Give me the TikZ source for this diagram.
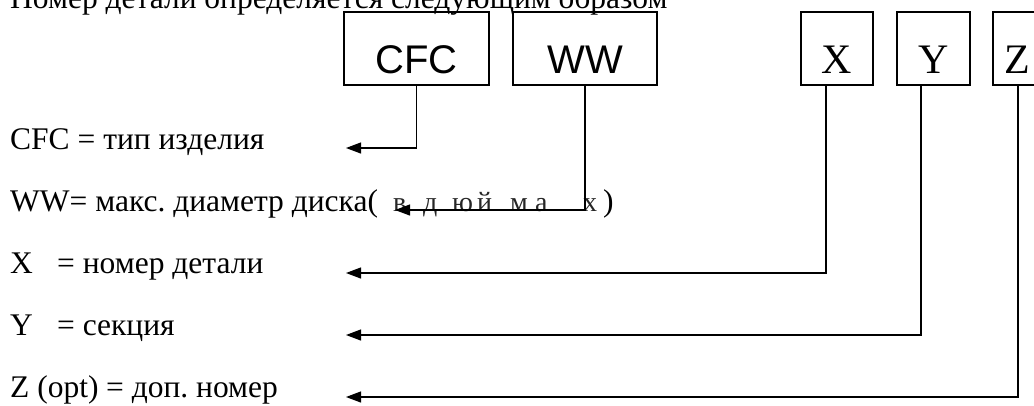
\documentclass[tikz,border=0pt]{standalone}
\usepackage{fontspec}
\setmainfont{Liberation Serif}
\newfontfamily\sansf{Liberation Sans}
\usetikzlibrary{arrows.meta}
\frenchspacing
\begin{document}
\begin{tikzpicture}[x=1pt,y=-1pt,
  box/.style={draw, line width=1.2pt, inner sep=0pt, text height=61pt, text depth=12pt, anchor=base},
  sbox/.style={box, font=\sansf\fontsize{40}{40}\selectfont},
  tbox/.style={box, font=\fontsize{42}{42}\selectfont},
  lbl/.style={anchor=base west, inner sep=0pt, font=\fontsize{31.5}{36}\selectfont},
  sp/.style={anchor=base west, inner sep=0pt, font=\fontsize{28}{34}\selectfont, text=black!85},
  arr/.style={line width=1.2pt, -{Triangle[length=15pt,width=11pt]}}]
\useasboundingbox (0,0) rectangle (1034,405);
% title (cut off at the top)
\node[lbl] (title) at (10,8) {Номер детали определяется следующим образом};
% boxes
\node[sbox, minimum width=145pt] (cfc) at (416.5,73) {CFC};
\node[sbox, minimum width=144pt] (ww) at (585,73) {WW};
\node[tbox, minimum width=72pt] (xb) at (837,73) {X};
\node[tbox, minimum width=73pt] (yb) at (933.5,73) {Y};
\node[tbox, minimum width=48pt] (zb) at (1017,73) {Z};
% labels
\node[lbl] (lcfc) at (10,149) {CFC = тип изделия};
\node[lbl] (lww) at (10,211) {WW= макс. диаметр диска(};
\node[sp] (s1) at (393,211) {в};
\node[sp] (s2) at (423,211) {д};
\node[sp] (s3) at (452,211) {ю};
\node[sp] (s4) at (477,211) {й};
\node[sp] (s5) at (510,211) {м};
\node[sp] (s6) at (535,211) {а};
\node[sp] (s7) at (583,211) {х};
\node[lbl] (s8) at (603,211) {)};
\node[lbl] (lx) at (10,273) {\rlap{X}\hspace{47pt}= номер детали};
\node[lbl] (ly) at (10,335) {\rlap{Y}\hspace{47pt}= секция};
\node[lbl] (lz) at (10,397) {\rlap{Z (opt)}\hspace{96pt}= доп. номер};
% arrow tips
\coordinate (tcfc) at (346,148);
\coordinate (tww) at (395,210);
\coordinate (tx) at (346,273);
\coordinate (ty) at (346,335);
\coordinate (tz) at (346,397);
% connectors
\draw[arr] (cfc.south) |- (tcfc);
\draw[arr] (ww.south) |- (tww);
\draw[arr] ([xshift=-11pt]xb.south) |- (tx);
\draw[arr] ([xshift=-12.5pt]yb.south) |- (ty);
\draw[arr] ([xshift=1pt]zb.south) |- (tz);
\end{tikzpicture}
\end{document}
